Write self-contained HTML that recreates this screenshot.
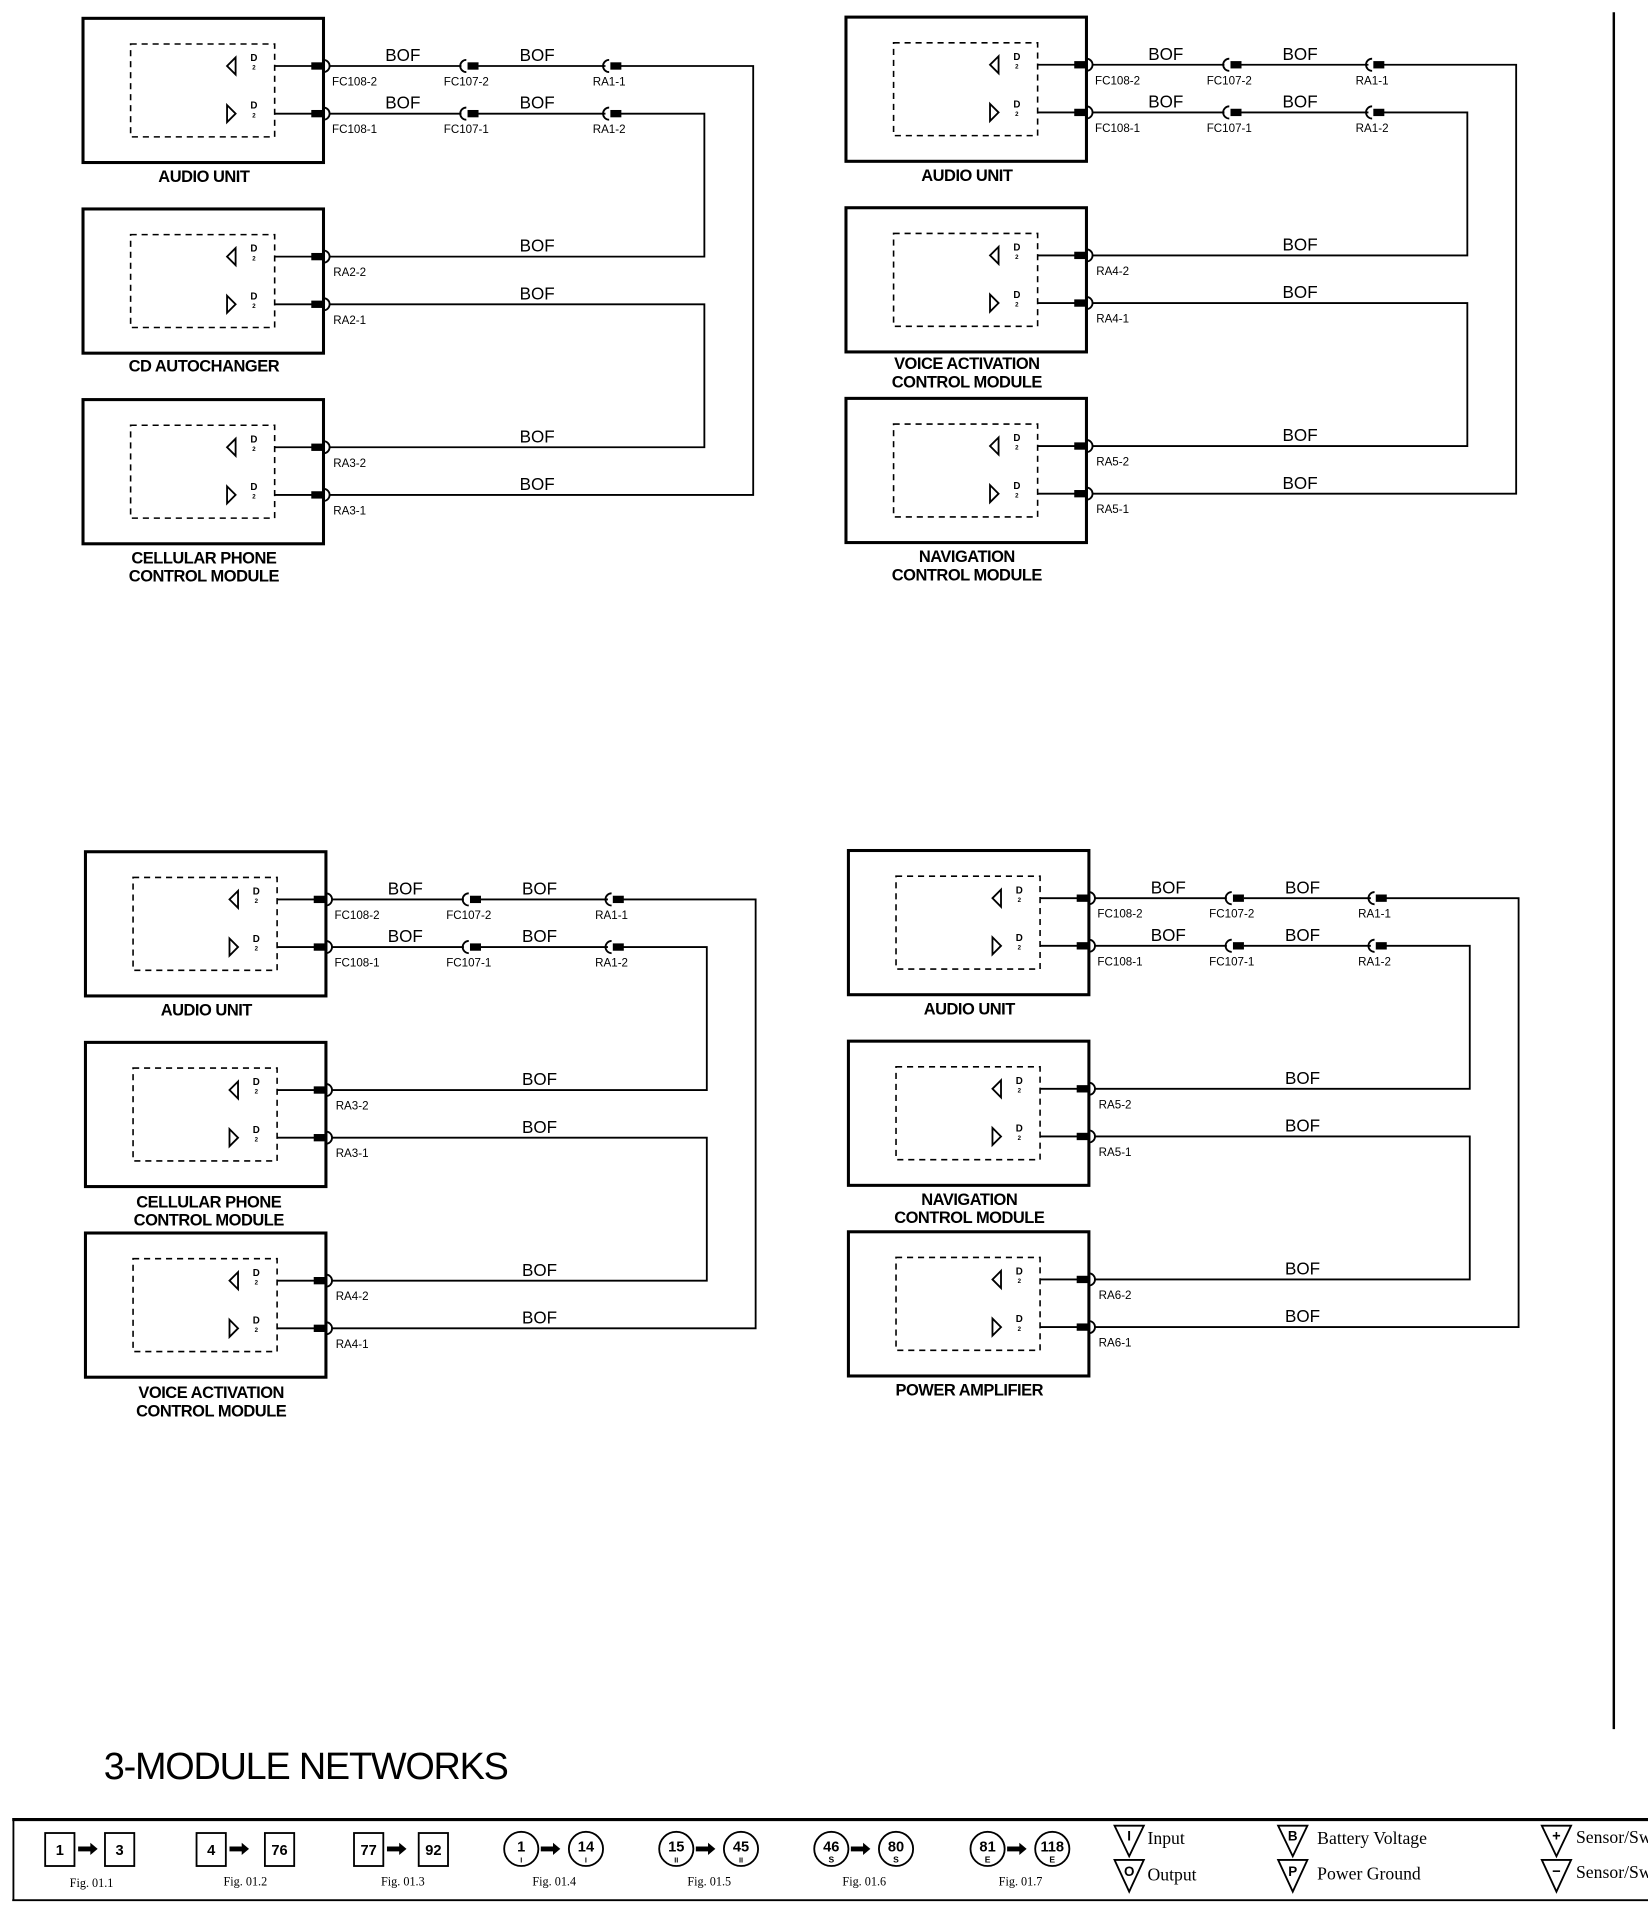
<!DOCTYPE html>
<html><head><meta charset="utf-8"><style>
html,body{margin:0;padding:0;background:#fff}
svg{display:block}
text{font-family:"Liberation Sans",sans-serif;fill:#000}
.b{font-size:14px;text-anchor:middle}
.c{font-size:9.5px}
.cm{font-size:9.5px;text-anchor:middle}
.m{font-size:13.5px;font-weight:bold;text-anchor:middle;letter-spacing:-0.4px}
.d{font-size:8px;font-weight:bold;text-anchor:middle}
.f{font-size:10px;text-anchor:middle;font-family:"Liberation Serif",serif}
.n{font-size:12px;font-weight:bold;text-anchor:middle}
.l{font-size:14.5px;font-family:"Liberation Serif",serif}
</style></head><body>
<svg width="1648" height="1910" viewBox="0 0 1350 1563" preserveAspectRatio="none" xmlns="http://www.w3.org/2000/svg">
<defs>
<g id="mod">
<rect x="68" y="0" width="197" height="118" fill="none" stroke="#000" stroke-width="2.5"/>
<rect x="107" y="21" width="118" height="76" fill="none" stroke="#000" stroke-width="1.3" stroke-dasharray="5,4"/>
<polygon points="193,32 186,39 193,46" fill="#fff" stroke="#000" stroke-width="1.5"/>
<polygon points="186,71 193,78 186,85" fill="#fff" stroke="#000" stroke-width="1.5"/>
<line x1="225" y1="39" x2="262" y2="39" stroke="#000" stroke-width="1.5"/>
<line x1="225" y1="78" x2="262" y2="78" stroke="#000" stroke-width="1.5"/>
<rect x="255" y="36" width="9" height="6"/><rect x="255" y="75" width="9" height="6"/>
<path d="M265,34 a5,5 0 0 1 0,10 M265,73 a5,5 0 0 1 0,10" fill="none" stroke="#000" stroke-width="1.5"/>
</g>
<g id="pan">
<use href="#mod" y="15"/><use href="#mod" y="171"/><use href="#mod" y="327"/>
<g stroke="#000" stroke-width="1.5" fill="none">
<path d="M270,54 H378 M392,54 H496 M506,54 H617 V405 H270"/>
<path d="M270,93 H378 M392,93 H496 M506,93 H577 V210 H270"/>
<path d="M270,249 H577 V366 H270"/>
<path d="M382,49 a5,5 0 0 0 0,10 M382,88 a5,5 0 0 0 0,10 M499,49 a5,5 0 0 0 0,10 M499,88 a5,5 0 0 0 0,10"/>
</g>
<rect x="383" y="51" width="9" height="6"/><rect x="383" y="90" width="9" height="6"/>
<rect x="500" y="51" width="9" height="6"/><rect x="500" y="90" width="9" height="6"/>
</g>
<g id="dd">
<text class="d" x="208" y="50">D</text><text class="d" x="208" y="57" style="font-size:5px">2</text>
<text class="d" x="208" y="89">D</text><text class="d" x="208" y="96" style="font-size:5px">2</text>
</g>
</defs>

<line x1="1322" y1="10" x2="1322" y2="1415" stroke="#000" stroke-width="2"/>

<g transform="translate(0,0)">
<use href="#pan"/>
<use href="#dd"/><use href="#dd" y="156"/><use href="#dd" y="312"/>
<text class="b" x="330" y="50">BOF</text><text class="b" x="440" y="50">BOF</text>
<text class="b" x="330" y="89">BOF</text><text class="b" x="440" y="89">BOF</text>
<text class="b" x="440" y="206">BOF</text><text class="b" x="440" y="245">BOF</text>
<text class="b" x="440" y="362">BOF</text><text class="b" x="440" y="401">BOF</text>
<text class="c" x="272" y="70">FC108-2</text><text class="cm" x="382" y="70">FC107-2</text><text class="cm" x="499" y="70">RA1-1</text>
<text class="c" x="272" y="109">FC108-1</text><text class="cm" x="382" y="109">FC107-1</text><text class="cm" x="499" y="109">RA1-2</text>
<text class="c" x="273" y="226">RA2-2</text><text class="c" x="273" y="265">RA2-1</text>
<text class="c" x="273" y="382">RA3-2</text><text class="c" x="273" y="421">RA3-1</text>
<text class="m" x="167" y="149">AUDIO UNIT</text>
<text class="m" x="167" y="304">CD AUTOCHANGER</text>
<text class="m" x="167" y="461">CELLULAR PHONE</text><text class="m" x="167" y="476">CONTROL MODULE</text>
</g>

<g transform="translate(625,-1)">
<use href="#pan"/>
<use href="#dd"/><use href="#dd" y="156"/><use href="#dd" y="312"/>
<text class="b" x="330" y="50">BOF</text><text class="b" x="440" y="50">BOF</text>
<text class="b" x="330" y="89">BOF</text><text class="b" x="440" y="89">BOF</text>
<text class="b" x="440" y="206">BOF</text><text class="b" x="440" y="245">BOF</text>
<text class="b" x="440" y="362">BOF</text><text class="b" x="440" y="401">BOF</text>
<text class="c" x="272" y="70">FC108-2</text><text class="cm" x="382" y="70">FC107-2</text><text class="cm" x="499" y="70">RA1-1</text>
<text class="c" x="272" y="109">FC108-1</text><text class="cm" x="382" y="109">FC107-1</text><text class="cm" x="499" y="109">RA1-2</text>
<text class="c" x="273" y="226">RA4-2</text><text class="c" x="273" y="265">RA4-1</text>
<text class="c" x="273" y="382">RA5-2</text><text class="c" x="273" y="421">RA5-1</text>
<text class="m" x="167" y="149">AUDIO UNIT</text>
<text class="m" x="167" y="303">VOICE ACTIVATION</text><text class="m" x="167" y="318">CONTROL MODULE</text>
<text class="m" x="167" y="461">NAVIGATION</text><text class="m" x="167" y="476">CONTROL MODULE</text>
</g>

<g transform="translate(2,682)">
<use href="#pan"/>
<use href="#dd"/><use href="#dd" y="156"/><use href="#dd" y="312"/>
<text class="b" x="330" y="50">BOF</text><text class="b" x="440" y="50">BOF</text>
<text class="b" x="330" y="89">BOF</text><text class="b" x="440" y="89">BOF</text>
<text class="b" x="440" y="206">BOF</text><text class="b" x="440" y="245">BOF</text>
<text class="b" x="440" y="362">BOF</text><text class="b" x="440" y="401">BOF</text>
<text class="c" x="272" y="70">FC108-2</text><text class="cm" x="382" y="70">FC107-2</text><text class="cm" x="499" y="70">RA1-1</text>
<text class="c" x="272" y="109">FC108-1</text><text class="cm" x="382" y="109">FC107-1</text><text class="cm" x="499" y="109">RA1-2</text>
<text class="c" x="273" y="226">RA3-2</text><text class="c" x="273" y="265">RA3-1</text>
<text class="c" x="273" y="382">RA4-2</text><text class="c" x="273" y="421">RA4-1</text>
<text class="m" x="167" y="149">AUDIO UNIT</text>
<text class="m" x="169" y="306">CELLULAR PHONE</text><text class="m" x="169" y="321">CONTROL MODULE</text>
<text class="m" x="171" y="462">VOICE ACTIVATION</text><text class="m" x="171" y="477">CONTROL MODULE</text>
</g>

<g transform="translate(627,681)">
<use href="#pan"/>
<use href="#dd"/><use href="#dd" y="156"/><use href="#dd" y="312"/>
<text class="b" x="330" y="50">BOF</text><text class="b" x="440" y="50">BOF</text>
<text class="b" x="330" y="89">BOF</text><text class="b" x="440" y="89">BOF</text>
<text class="b" x="440" y="206">BOF</text><text class="b" x="440" y="245">BOF</text>
<text class="b" x="440" y="362">BOF</text><text class="b" x="440" y="401">BOF</text>
<text class="c" x="272" y="70">FC108-2</text><text class="cm" x="382" y="70">FC107-2</text><text class="cm" x="499" y="70">RA1-1</text>
<text class="c" x="272" y="109">FC108-1</text><text class="cm" x="382" y="109">FC107-1</text><text class="cm" x="499" y="109">RA1-2</text>
<text class="c" x="273" y="226">RA5-2</text><text class="c" x="273" y="265">RA5-1</text>
<text class="c" x="273" y="382">RA6-2</text><text class="c" x="273" y="421">RA6-1</text>
<text class="m" x="167" y="149">AUDIO UNIT</text>
<text class="m" x="167" y="305">NAVIGATION</text><text class="m" x="167" y="320">CONTROL MODULE</text>
<text class="m" x="167" y="461">POWER AMPLIFIER</text>
</g>

<text x="85" y="1456" style="font-size:31px;letter-spacing:-1px">3-MODULE NETWORKS</text>

<line x1="10" y1="1489" x2="1350" y2="1489" stroke="#000" stroke-width="2.5"/>
<line x1="10" y1="1555" x2="1350" y2="1555" stroke="#000" stroke-width="1.5"/>
<line x1="11" y1="1489" x2="11" y2="1555" stroke="#000" stroke-width="1.5"/>
<g stroke="#000" stroke-width="1.5" fill="none">
<rect x="37" y="1500" width="24" height="27"/><rect x="86" y="1500" width="24" height="27"/>
<rect x="161" y="1500" width="24" height="27"/><rect x="217" y="1500" width="24" height="27"/>
<rect x="290" y="1500" width="24" height="27"/><rect x="343" y="1500" width="24" height="27"/>
<circle cx="427" cy="1513" r="14"/><circle cx="480" cy="1513" r="14"/>
<circle cx="554" cy="1513" r="14"/><circle cx="607" cy="1513" r="14"/>
<circle cx="681" cy="1513" r="14"/><circle cx="734" cy="1513" r="14"/>
<circle cx="809" cy="1513" r="14"/><circle cx="862" cy="1513" r="14"/>
<path d="M913,1494 L937,1494 L925,1519 Z M913,1522 L937,1522 L925,1548 Z"/>
<path d="M1047,1494 L1071,1494 L1059,1519 Z M1047,1522 L1071,1522 L1059,1548 Z"/>
<path d="M1263,1494 L1287,1494 L1275,1519 Z M1263,1522 L1287,1522 L1275,1548 Z"/>
</g>
<g fill="#000">
<path d="M64,1511 h10 v-3 l6,5 l-6,5 v-3 h-10z"/><path d="M188,1511 h10 v-3 l6,5 l-6,5 v-3 h-10z"/>
<path d="M317,1511 h10 v-3 l6,5 l-6,5 v-3 h-10z"/><path d="M443,1511 h10 v-3 l6,5 l-6,5 v-3 h-10z"/>
<path d="M570,1511 h10 v-3 l6,5 l-6,5 v-3 h-10z"/><path d="M697,1511 h10 v-3 l6,5 l-6,5 v-3 h-10z"/>
<path d="M825,1511 h10 v-3 l6,5 l-6,5 v-3 h-10z"/>
</g>
<text class="n" x="49" y="1518">1</text><text class="n" x="98" y="1518">3</text>
<text class="n" x="173" y="1518">4</text><text class="n" x="229" y="1518">76</text>
<text class="n" x="302" y="1518">77</text><text class="n" x="355" y="1518">92</text>
<text class="n" x="427" y="1515">1</text><text class="n" x="480" y="1515">14</text>
<text class="n" x="554" y="1515">15</text><text class="n" x="607" y="1515">45</text>
<text class="n" x="681" y="1515">46</text><text class="n" x="734" y="1515">80</text>
<text class="n" x="809" y="1515">81</text><text class="n" x="862" y="1515">118</text>
<text class="d" x="427" y="1524" style="font-size:6px">I</text><text class="d" x="480" y="1524" style="font-size:6px">I</text>
<text class="d" x="554" y="1524" style="font-size:6px">II</text><text class="d" x="607" y="1524" style="font-size:6px">II</text>
<text class="d" x="681" y="1524" style="font-size:7px">S</text><text class="d" x="734" y="1524" style="font-size:7px">S</text>
<text class="d" x="809" y="1524" style="font-size:7px">E</text><text class="d" x="862" y="1524" style="font-size:7px">E</text>
<text class="f" x="75" y="1544">Fig. 01.1</text><text class="f" x="201" y="1543">Fig. 01.2</text>
<text class="f" x="330" y="1543">Fig. 01.3</text><text class="f" x="454" y="1543">Fig. 01.4</text>
<text class="f" x="581" y="1543">Fig. 01.5</text><text class="f" x="708" y="1543">Fig. 01.6</text>
<text class="f" x="836" y="1543">Fig. 01.7</text>
<text class="d" x="925" y="1506" style="font-size:11px">I</text><text class="d" x="925" y="1535" style="font-size:11px">O</text>
<text class="d" x="1059" y="1506" style="font-size:11px">B</text><text class="d" x="1059" y="1535" style="font-size:11px">P</text>
<text class="d" x="1275" y="1506" style="font-size:12px">+</text><text class="d" x="1275" y="1535" style="font-size:12px">−</text>
<text class="l" x="940" y="1509">Input</text><text class="l" x="940" y="1539">Output</text>
<text class="l" x="1079" y="1509">Battery Voltage</text><text class="l" x="1079" y="1538">Power Ground</text>
<text class="l" x="1291" y="1508">Sensor/Switch</text><text class="l" x="1291" y="1537">Sensor/Switch</text>
</svg>
</body></html>
